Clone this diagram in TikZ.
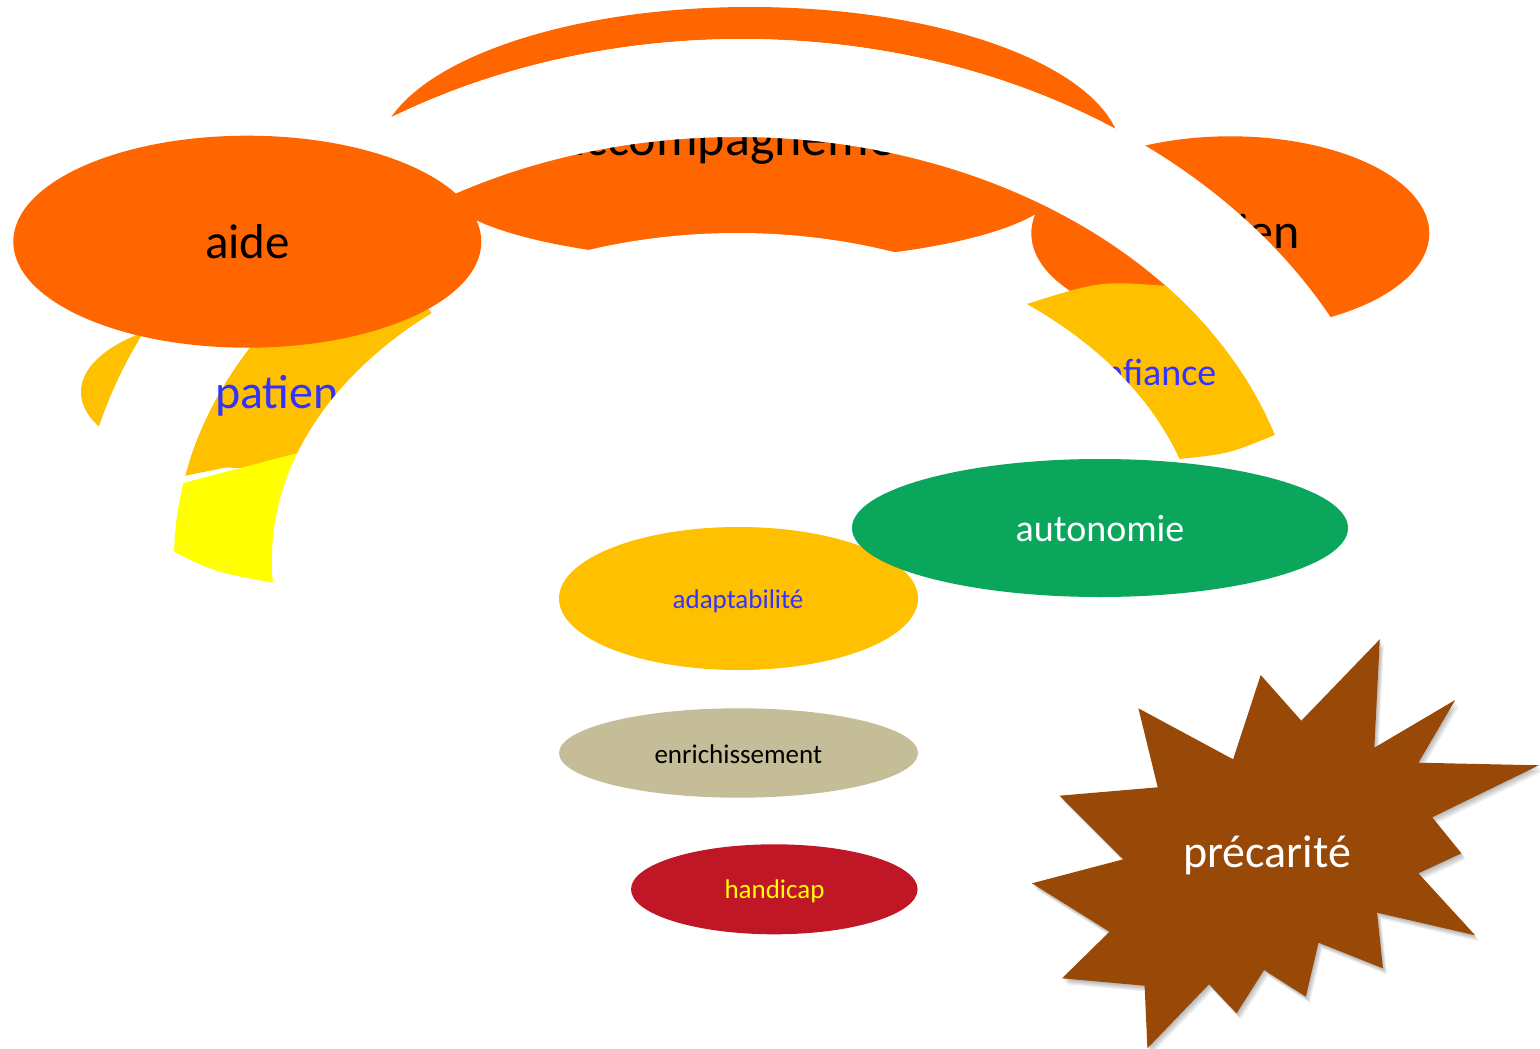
\documentclass[tikz,border=0pt]{standalone}
\usepackage{fontspec}
\setmainfont{Carlito}
\usetikzlibrary{calc}
\definecolor{cOrange}{HTML}{FF6600}
\definecolor{cGold}{HTML}{FFC000}
\definecolor{cYel}{HTML}{FFFF00}
\definecolor{cBlue}{HTML}{3333FF}
\definecolor{cGreen}{HTML}{0AA65C}
\definecolor{cTan}{HTML}{C4BD97}
\definecolor{cRed}{HTML}{BF1725}
\definecolor{cBrown}{HTML}{984807}
\begin{document}
\begin{tikzpicture}[x=1pt,y=-1pt,
  lbl/.style={inner sep=0pt, anchor=base},
  big/.style={font=\fontsize{50}{60}\selectfont},
  mid/.style={font=\fontsize{38}{46}\selectfont},
  small/.style={font=\fontsize{27}{32}\selectfont},
  shadowfill/.style={black, opacity=0.07}]
\useasboundingbox (0,0) rectangle (1540,1049);
\coordinate (cc) at (737,560);
\coordinate (cb) at (742,560);

% top thin crescent (outside the white band)
\begin{scope}
  \clip (750,157) ellipse [x radius=372, y radius=150];
  \fill[cOrange, even odd rule] (-10,-10) rectangle (1550,1060)
       (cb) ellipse [x radius=665, y radius=521];
\end{scope}

% small gold piece on the left
\fill[cGold] (245,392) ellipse [x radius=164, y radius=76];

% accompagnement
\fill[cOrange] (750,185) ellipse [x radius=309, y radius=76];
\node[lbl, font=\fontsize{52}{60}\selectfont] (acc) at (750,155) {accompagnement};

% lien
\fill[cOrange] (1230.3,233.3) ellipse [x radius=199, y radius=97];
\node[lbl, big] (lien) at (1263,248) {lien};

% white band
\fill[white, even odd rule] (cb) ellipse [x radius=665, y radius=521]
      (cc) ellipse [x radius=563, y radius=423];

% patience segment
\fill[cGold] (cc) ++(229:465 and 327)
   arc[start angle=229, end angle=199.1, x radius=465, y radius=327]
   -- ($(cc)+(191.5:563 and 423)$)
   arc[start angle=191.5, end angle=229, x radius=563, y radius=423] -- cycle;
\node[lbl, text=cBlue, font=\fontsize{48}{56}\selectfont] (pat) at (299,408) {patience};

% yellow segment
\fill[cYel] (cc) ++(199.1:465 and 327)
   arc[start angle=199.1, end angle=176, x radius=465, y radius=327]
   .. controls (215,572) .. ($(cc)+(181.1:563 and 423)$)
   arc[start angle=181.1, end angle=190.5, x radius=563, y radius=423] -- cycle;

% confiance segment
\fill[cGold] (cc) ++(-51.5:465 and 327)
   arc[start angle=-51.5, end angle=-18, x radius=465, y radius=327]
   .. controls (1228,454) .. ($(cc)+(-17.2:563 and 423)$)
   arc[start angle=-17.2, end angle=-40.4, x radius=563, y radius=423]
   .. controls (1100,281) .. cycle;
\node[lbl, mid, text=cBlue] (conf) at (1142,385) {confiance};

% aide
\fill[cOrange] (247.3,241.7) ellipse [x radius=234, y radius=106];
\node[lbl, font=\fontsize{49}{58}\selectfont] (aide) at (247.5,258) {aide};

% white inner area
\fill[white] (cc) ellipse [x radius=465, y radius=327];

% lower ellipses
\fill[cGold] (738.5,598.5) ellipse [x radius=179.5, y radius=71.5];
\node[lbl, small, text=cBlue] (adap) at (738,608) {adaptabilité};
\fill[cGreen] (1100,528) ellipse [x radius=248, y radius=69];
\node[lbl, mid, text=white] (auto) at (1100,541) {autonomie};
\fill[cTan] (738.5,753) ellipse [x radius=179.5, y radius=44.7];
\node[lbl, small] (enr) at (738.3,763) {enrichissement};
\fill[cRed] (774.3,889.3) ellipse [x radius=143.3, y radius=45];
\node[lbl, small, text=cYel] (hand) at (774.5,898) {handicap};

% star
\def\starpath{(1379.8,639.3) -- (1374.3,747.7) -- (1455.2,700) -- (1418.4,762.7)
 -- (1538.9,765.3) -- (1432.2,817.3) -- (1461.4,853.3) -- (1418.4,873.3)
 -- (1475.2,935.3) -- (1377.1,912.7) -- (1382.9,968.3) -- (1318.5,942.7)
 -- (1305.8,996.7) -- (1264.1,970) -- (1236.6,1013.3) -- (1209.0,984.3)
 -- (1147.4,1048.3) -- (1144.6,985.7) -- (1062.0,978.3) -- (1109.5,931.7)
 -- (1032.0,883.3) -- (1123.3,859.3) -- (1059.6,795.7) -- (1157.7,787.3)
 -- (1138.4,708.3) -- (1233.1,759.3) -- (1260.7,675) -- (1301.3,720.7) -- cycle}
\fill[shadowfill, shift={(1,1.5)}] \starpath;
\fill[shadowfill, shift={(2,3)}] \starpath;
\fill[shadowfill, shift={(3,4.5)}] \starpath;
\fill[shadowfill, shift={(4,6)}] \starpath;
\fill[cBrown] \starpath;
\node[lbl, font=\fontsize{46}{54}\selectfont, text=white] (prec) at (1267,867) {précarité};
\end{tikzpicture}
\end{document}
